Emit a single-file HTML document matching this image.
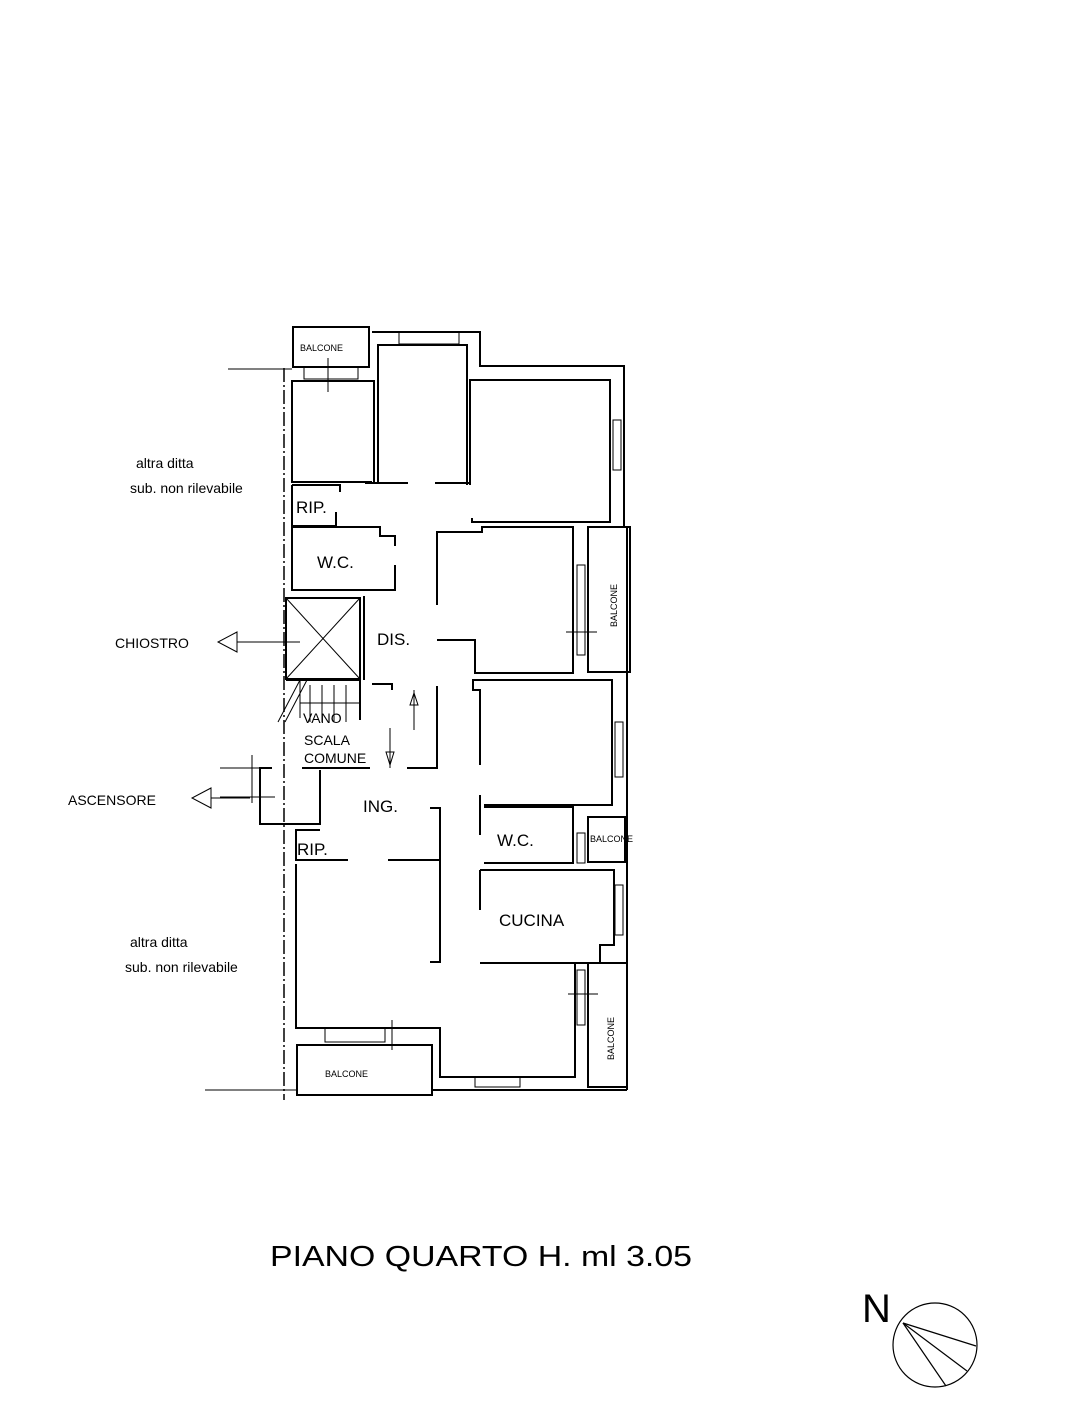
<!DOCTYPE html>
<html><head><meta charset="utf-8"><style>
html,body{margin:0;padding:0;background:#fff}
svg{display:block}
text{font-family:"Liberation Sans",sans-serif;fill:#000}
</style></head><body>
<svg width="1088" height="1408" viewBox="0 0 1088 1408" xmlns="http://www.w3.org/2000/svg">
<g fill="none" stroke="#000" stroke-width="2">
<!-- outer dashed property line -->
<line x1="284" y1="368" x2="284" y2="1100" stroke-dasharray="14,3,2,3" stroke-width="1.5"/>
<line x1="228" y1="369" x2="292" y2="369" stroke-width="1"/>
<line x1="205" y1="1090" x2="296" y2="1090" stroke-width="1"/>
<!-- top balcony -->
<rect x="293" y="327" width="76" height="40"/>
<line x1="328" y1="358" x2="328" y2="392" stroke-width="1"/>
<rect x="304" y="367" width="54" height="12" stroke-width="1"/>
<!-- outer shell top -->
<polyline points="372,332 480,332 480,366 624,366 624,527"/>
<rect x="399" y="332" width="60" height="12" stroke-width="1"/>
<!-- room 1 -->
<polyline points="372,482 292,482 292,381 374,381 374,482"/>
<!-- room 2 -->
<polyline points="378,482 378,345 467,345 467,485"/>
<line x1="365" y1="483" x2="408" y2="483"/>
<line x1="435" y1="483" x2="470" y2="483"/>
<!-- room 3 -->
<polyline points="470,485 470,380 610,380 610,522 472,522 472,518"/>
<rect x="613" y="420" width="8" height="50" stroke-width="1"/>
<!-- RIP top -->
<polyline points="292,485 292,526 336,526 336,512"/>
<polyline points="292,485 340,485 340,492"/>
<!-- WC top -->
<polyline points="292,527 380,527 380,536 395,536 395,546"/>
<polyline points="395,565 395,590 292,590 292,527"/>
<!-- chiostro -->
<rect x="286" y="598" width="74" height="81"/>
<line x1="286" y1="598" x2="360" y2="679" stroke-width="1"/>
<line x1="360" y1="598" x2="286" y2="679" stroke-width="1"/>
<line x1="364" y1="596" x2="364" y2="680"/>
<!-- central right room -->
<polyline points="437,605 437,532 482,532 482,527 573,527 573,673 475,673 475,640 437,640"/>
<rect x="577" y="565" width="8" height="90" stroke-width="1"/>
<line x1="566" y1="632" x2="597" y2="632" stroke-width="1"/>
<rect x="588" y="527" width="42" height="145"/>
<line x1="627" y1="527" x2="627" y2="1090"/>
<!-- right mid room -->
<polyline points="480,765 480,690 473,690 473,680 612,680 612,805 484,805"/>
<rect x="615" y="722" width="8" height="55" stroke-width="1"/>
<!-- stair -->
<polyline points="286,680 360,680 360,720"/>
<line x1="300" y1="680" x2="300" y2="718" stroke-width="1"/>
<line x1="310" y1="685" x2="310" y2="722" stroke-width="1"/>
<line x1="322" y1="685" x2="322" y2="722" stroke-width="1"/>
<line x1="334" y1="685" x2="334" y2="722" stroke-width="1"/>
<line x1="346" y1="685" x2="346" y2="722" stroke-width="1"/>
<line x1="300" y1="703" x2="360" y2="703" stroke-width="1"/>
<line x1="278" y1="722" x2="300" y2="680" stroke-width="1"/>
<line x1="285" y1="722" x2="307" y2="680" stroke-width="1"/>
<polyline points="372,684 392,684 392,690"/>
<polyline points="302,768 370,768"/>
<polyline points="407,768 437,768 437,686"/>
<!-- ascensore -->
<polyline points="272,768 260,768 260,824 320,824 320,770"/>
<line x1="220" y1="768" x2="272" y2="768" stroke-width="1"/>
<line x1="220" y1="797" x2="275" y2="797" stroke-width="1"/>
<line x1="252" y1="755" x2="252" y2="803" stroke-width="1"/>
<!-- RIP bottom -->
<polyline points="320,830 296,830 296,860 348,860"/>
<line x1="388" y1="860" x2="440" y2="860"/>
<!-- ING partition -->
<polyline points="430,808 440,808 440,962 430,962"/>
<!-- big lower left room -->
<polyline points="296,864 296,1028 440,1028 440,1077 575,1077 575,963"/>
<rect x="325" y="1028" width="60" height="14" stroke-width="1"/>
<line x1="392" y1="1020" x2="392" y2="1050" stroke-width="1"/>
<rect x="297" y="1045" width="135" height="50"/>
<rect x="475" y="1077" width="45" height="10" stroke-width="1"/>
<line x1="432" y1="1090" x2="627" y2="1090"/>
<!-- WC lower -->
<polyline points="480,795 480,835"/>
<polyline points="484,807 573,807 573,863 484,863"/>
<rect x="577" y="833" width="8" height="30" stroke-width="1"/>
<rect x="588" y="817" width="37" height="45"/>
<!-- cucina -->
<polyline points="480,870 614,870 614,945 600,945 600,963 480,963"/>
<line x1="480" y1="870" x2="480" y2="910"/>
<rect x="615" y="885" width="8" height="50" stroke-width="1"/>
<rect x="588" y="963" width="39" height="124"/>
<rect x="577" y="970" width="8" height="55" stroke-width="1"/>
<line x1="568" y1="994" x2="598" y2="994" stroke-width="1"/>
<!-- arrows -->
<line x1="414" y1="730" x2="414" y2="690" stroke-width="1"/>
<path d="M410 705 L414 693 L418 705 Z" stroke-width="1"/>
<line x1="390" y1="728" x2="390" y2="768" stroke-width="1"/>
<path d="M386 752 L390 765 L394 752 Z" stroke-width="1"/>
<!-- chiostro & ascensore arrows -->
<line x1="237" y1="642" x2="300" y2="642" stroke-width="1"/>
<path d="M237 632 L218 642 L237 652 Z" stroke-width="1"/>
<line x1="211" y1="798" x2="250" y2="798" stroke-width="1"/>
<path d="M211 788 L192 798 L211 808 Z" stroke-width="1"/>
<!-- compass -->
<circle cx="935" cy="1345" r="42" stroke-width="1.2"/>
<line x1="903" y1="1323" x2="976" y2="1346" stroke-width="1.2"/>
<line x1="903" y1="1323" x2="967" y2="1371" stroke-width="1.2"/>
<line x1="903" y1="1323" x2="946" y2="1386" stroke-width="1.2"/>
</g>
<g>
<text x="300" y="351" font-size="9">BALCONE</text>
<text x="136" y="468" font-size="14">altra ditta</text>
<text x="130" y="493" font-size="14">sub. non rilevabile</text>
<text x="296" y="513" font-size="17">RIP.</text>
<text x="317" y="568" font-size="17">W.C.</text>
<text x="377" y="645" font-size="17">DIS.</text>
<text x="115" y="648" font-size="14">CHIOSTRO</text>
<text x="303" y="723" font-size="14">VANO</text>
<text x="304" y="745" font-size="14">SCALA</text>
<text x="304" y="763" font-size="14">COMUNE</text>
<text x="68" y="805" font-size="14">ASCENSORE</text>
<text x="363" y="812" font-size="17">ING.</text>
<text x="297" y="855" font-size="17">RIP.</text>
<text x="497" y="846" font-size="17">W.C.</text>
<text x="590" y="842" font-size="9">BALCONE</text>
<text x="499" y="926" font-size="17">CUCINA</text>
<text x="130" y="947" font-size="14">altra ditta</text>
<text x="125" y="972" font-size="14">sub. non rilevabile</text>
<text x="325" y="1077" font-size="9">BALCONE</text>
<text transform="translate(617,627) rotate(-90)" font-size="9">BALCONE</text>
<text transform="translate(614,1060) rotate(-90)" font-size="9">BALCONE</text>
<text x="270" y="1266" font-size="29" textLength="422" lengthAdjust="spacingAndGlyphs">PIANO QUARTO H.  ml 3.05</text>
<text x="862" y="1322" font-size="40">N</text>
</g>
</svg>
</body></html>
